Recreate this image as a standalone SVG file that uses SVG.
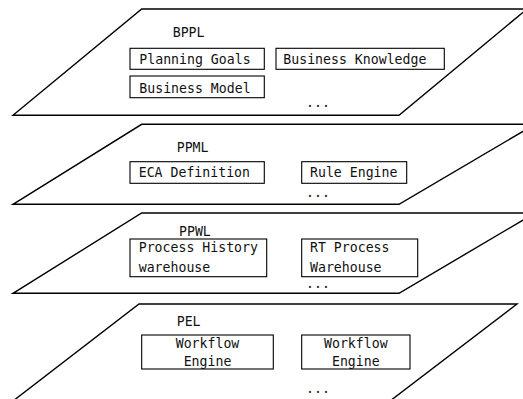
<svg xmlns="http://www.w3.org/2000/svg" width="523" height="399" viewBox="0 0 523 399">
<style>
.layer{fill:#fff;stroke:#000;stroke-width:1.4}
.box{fill:#fff;stroke:#000;stroke-width:1.1}
text{font-family:"DejaVu Sans Mono","Liberation Mono",monospace;font-size:14.6px;fill:#111}
.c{text-anchor:middle}
</style>
<rect width="523" height="399" fill="#fff"/>
<g id="layer-PEL">
<polygon class="layer" points="139,304 517,304 390,401 13,401"/>
<text x="176.7" y="325.7" textLength="23.85" lengthAdjust="spacingAndGlyphs">PEL</text>
<g id="pel-wf1"><rect class="box" x="141.7" y="335" width="131.6" height="34"/>
<text class="c" x="207.5" y="348.3" textLength="63.6" lengthAdjust="spacingAndGlyphs">Workflow</text><text class="c" x="207.5" y="365.5" textLength="47.7" lengthAdjust="spacingAndGlyphs">Engine</text></g>
<g id="pel-wf2"><rect class="box" x="301.7" y="335" width="108.3" height="34"/>
<text class="c" x="355.8" y="348.3" textLength="63.6" lengthAdjust="spacingAndGlyphs">Workflow</text><text class="c" x="355.8" y="365.5" textLength="47.7" lengthAdjust="spacingAndGlyphs">Engine</text></g>
<text x="306" y="393.3" textLength="23.85" lengthAdjust="spacingAndGlyphs">...</text>
</g>
<g id="layer-PPWL">
<polygon class="layer" points="141.7,213 535,213 399,293.3 13,293.3"/>
<text x="179" y="235.7" textLength="31.8" lengthAdjust="spacingAndGlyphs">PPWL</text>
<g id="ppwl-history"><rect class="box" x="130" y="239" width="136.7" height="37.7"/>
<text x="138.7" y="252.3" textLength="119.25" lengthAdjust="spacingAndGlyphs">Process History</text><text x="138.7" y="271.7" textLength="71.55" lengthAdjust="spacingAndGlyphs">warehouse</text></g>
<g id="ppwl-rt"><rect class="box" x="301.7" y="239" width="116" height="37.7"/>
<text x="310" y="252.3" textLength="79.5" lengthAdjust="spacingAndGlyphs">RT Process</text><text x="310" y="271.7" textLength="71.55" lengthAdjust="spacingAndGlyphs">Warehouse</text></g>
<text x="306" y="287.7" textLength="23.85" lengthAdjust="spacingAndGlyphs">...</text>
</g>
<g id="layer-PPML">
<polygon class="layer" points="141.7,124.3 535,124.3 399,204.3 13,204.3"/>
<text x="176.7" y="152.3" textLength="31.8" lengthAdjust="spacingAndGlyphs">PPML</text>
<g id="ppml-eca"><rect class="box" x="130" y="161.7" width="134.3" height="21.6"/>
<text x="138.7" y="177.3" textLength="111.3" lengthAdjust="spacingAndGlyphs">ECA Definition</text></g>
<g id="ppml-rule"><rect class="box" x="301.7" y="161.7" width="105" height="21.6"/>
<text x="310" y="177.3" textLength="87.45" lengthAdjust="spacingAndGlyphs">Rule Engine</text></g>
<text x="306" y="196.7" textLength="23.85" lengthAdjust="spacingAndGlyphs">...</text>
</g>
<g id="layer-BPPL">
<polygon class="layer" points="141.7,9 527,9 399,115.3 13,115.3"/>
<text x="172.7" y="36.7" textLength="31.8" lengthAdjust="spacingAndGlyphs">BPPL</text>
<g id="bppl-goals"><rect class="box" x="130" y="48.3" width="134.3" height="21"/>
<text x="139.3" y="64" textLength="111.3" lengthAdjust="spacingAndGlyphs">Planning Goals</text></g>
<g id="bppl-knowledge"><rect class="box" x="276" y="48.3" width="168.3" height="21"/>
<text x="283.3" y="64" textLength="143.1" lengthAdjust="spacingAndGlyphs">Business Knowledge</text></g>
<g id="bppl-model"><rect class="box" x="130" y="76" width="134.3" height="21.7"/>
<text x="139.3" y="92.5" textLength="111.3" lengthAdjust="spacingAndGlyphs">Business Model</text></g>
<text x="306" y="106.7" textLength="23.85" lengthAdjust="spacingAndGlyphs">...</text>
</g>
<g id="connectors"></g>
</svg>
